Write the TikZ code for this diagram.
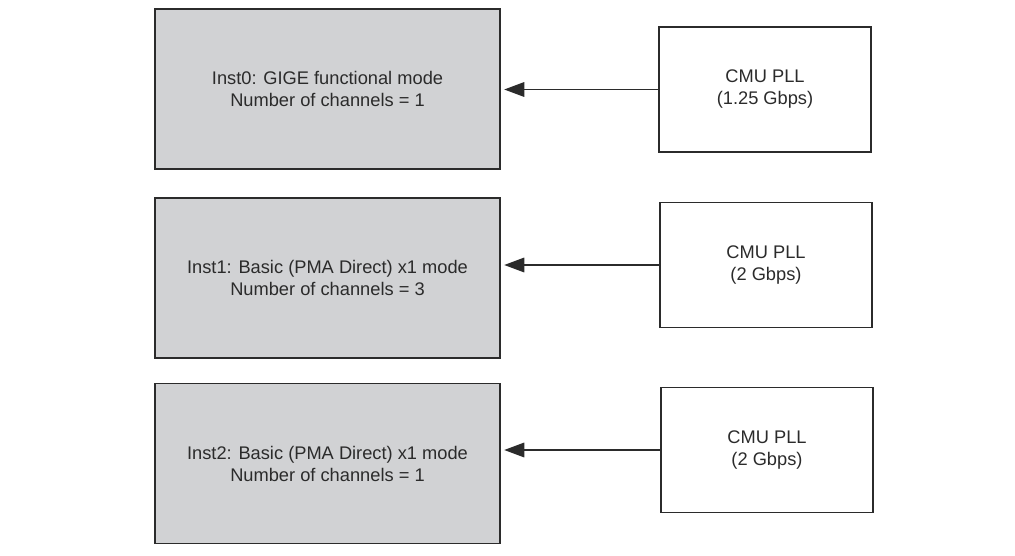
\documentclass[tikz,border=0pt]{standalone}
\usepackage{fontspec}
\setmainfont{Liberation Sans}
\usetikzlibrary{arrows.meta, calc}
\definecolor{instGray}{HTML}{D1D2D4}
\definecolor{lineDark}{HTML}{2B2B2B}

\begin{document}
\begin{tikzpicture}[
    x=0.75pt, y=-0.75pt,
    ibox/.style={rectangle, draw=lineDark, line width=1.4pt, fill=instGray, minimum width=258.75pt,
      minimum height=120pt, font=\fontsize{13.7}{16.5}\selectfont, text=lineDark, align=center, inner sep=0pt},
    pbox/.style={rectangle, draw=lineDark, line width=1.1pt, fill=white, minimum width=159pt,
      minimum height=93.75pt, font=\fontsize{13.7}{16.5}\selectfont, text=lineDark, align=center, inner sep=0pt},
    parr/.style={-{Triangle[length=15pt, width=11pt]}, line width=0.9pt, draw=lineDark, shorten >=2.5pt}
  ]
  \useasboundingbox[fill=white] (0,0) rectangle (1015,556);

  \node[ibox] (inst0) at (327.5,89) {Inst0: GIGE functional mode\\Number of channels = 1};
  \node[ibox] (inst1) at (327.5,278) {Inst1: Basic (PMA Direct) x1 mode\\Number of channels = 3};
  \node[ibox] (inst2) at (327.5,463.5) {Inst2: Basic (PMA Direct) x1 mode\\Number of channels = 1};

  \node[pbox] (pll0) at (765,89.5) {CMU PLL\\(1.25 Gbps)};
  \node[pbox] (pll1) at (766,265) {CMU PLL\\(2 Gbps)};
  \node[pbox] (pll2) at (767,450) {CMU PLL\\(2 Gbps)};

  \draw[parr] (pll0.west) -- (pll0.west -| inst0.east);
  \draw[parr] (pll1.west) -- (pll1.west -| inst1.east);
  \draw[parr] (pll2.west) -- (pll2.west -| inst2.east);
\end{tikzpicture}
\end{document}
